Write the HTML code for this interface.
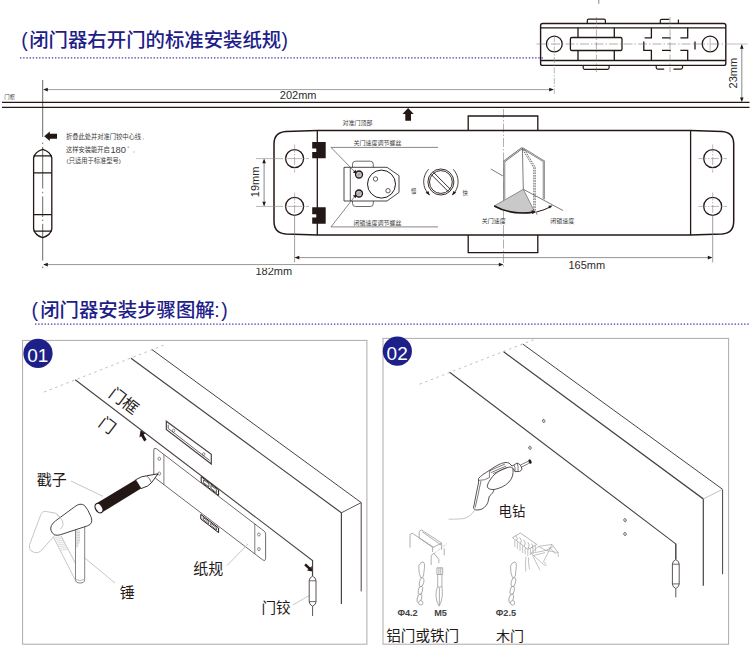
<!DOCTYPE html>
<html><head><meta charset="utf-8"><title>door closer</title>
<style>html,body{margin:0;padding:0;background:#fff}body{width:750px;height:649px;overflow:hidden;font-family:"Liberation Sans",sans-serif}svg{display:block}svg text{font-family:"Liberation Sans","Noto Sans CJK SC",sans-serif}</style>
</head><body><svg width="750" height="649" viewBox="0 0 750 649"><text x="21.3" y="46.6" font-size="19.4" font-weight="500" fill="#1d2088">(</text>
<text x="29.2" y="46.6" font-size="19.4" font-weight="500" fill="#1d2088">闭门器右开门的标准安装纸规</text>
<text x="281.6" y="46.6" font-size="19.4" font-weight="500" fill="#1d2088">)</text>
<line x1="20" y1="57.8" x2="544" y2="57.8" stroke="#433aa6" stroke-width="1.15" stroke-dasharray="1.4 1.78"/>
<line x1="598.8" y1="0" x2="598.8" y2="3.8" stroke="#666" stroke-width="0.8"/>
<rect x="540.6" y="23.5" width="185.2" height="41.9" rx="2" fill="none" stroke="#231815" stroke-width="1.4"/><line x1="540.6" y1="27.8" x2="725.8" y2="27.8" stroke="#231815" stroke-width="1.3"/><line x1="540.6" y1="60.5" x2="725.8" y2="60.5" stroke="#231815" stroke-width="1.3"/><circle cx="554.3" cy="44" r="7.9" fill="none" stroke="#231815" stroke-width="1.3"/><circle cx="710.1" cy="44" r="7.9" fill="none" stroke="#231815" stroke-width="1.3"/><path d="M578 27.8V60.5M614.3 27.8V60.5" stroke="#231815" stroke-width="1.3" fill="none"/><rect x="570.4" y="37.5" width="51.6" height="13" rx="1.6" fill="#fff" stroke="#231815" stroke-width="1.3"/><path d="M587.3 23.5V20.6Q587.3 19.2 588.7 19.2H604Q605.4 19.2 605.4 20.6V23.5" stroke="#231815" stroke-width="1.2" fill="none"/><path d="M583.2 65.4V67.8Q583.2 69.3 584.7 69.3H607.6Q609.1 69.3 609.1 67.8V65.4" stroke="#231815" stroke-width="1.2" fill="none"/><path d="M651.4 27.8V37.9H644.6M643.8 41.5V50.3H651.4V60.5M687.7 27.8V37.9H680.4M680.4 50.3H687.7V60.5M662 37.9H670.8M662 50.3H670.8M695 41.5V49.6" stroke="#231815" stroke-width="1.3" fill="none"/><path d="M660.3 23.5V20.8Q660.3 19.4 661.7 19.4H669.3M678.4 19.6V23.5" stroke="#231815" stroke-width="1.2" fill="none"/><path d="M656.2 65.4V67.6Q656.2 69.1 657.7 69.1H664.2M673.4 69.1H681Q682.5 69.1 682.5 67.6V65.4" stroke="#231815" stroke-width="1.2" fill="none"/><line x1="536.5" y1="44" x2="726" y2="44" stroke="#707070" stroke-width="0.55" stroke-dasharray="9 2 1.5 2"/><line x1="726" y1="44" x2="747.5" y2="44" stroke="#888" stroke-width="0.55"/><line x1="596.4" y1="17" x2="596.4" y2="72" stroke="#707070" stroke-width="0.55" stroke-dasharray="7 2 1.5 2"/><line x1="670" y1="17" x2="670" y2="72" stroke="#707070" stroke-width="0.55" stroke-dasharray="7 2 1.5 2"/><line x1="554.3" y1="36" x2="554.3" y2="94" stroke="#888" stroke-width="0.6" stroke-dasharray="6 1.5 1.5 1.5"/><line x1="710.1" y1="38" x2="710.1" y2="52" stroke="#888" stroke-width="0.6"/>
<line x1="741.8" y1="45" x2="741.8" y2="101" stroke="#555" stroke-width="0.7"/>
<path d="M741.8 44.3L743.6 48.8H740ZM741.8 101.9L743.6 97.4H740Z" fill="#231815"/>
<text transform="translate(737.2 88.4) rotate(-90)" font-size="11" fill="#2b2b2b">23mm</text>
<line x1="42.7" y1="80" x2="42.7" y2="137" stroke="#444" stroke-width="0.8"/>
<line x1="44" y1="89.6" x2="553" y2="89.6" stroke="#777" stroke-width="0.7"/>
<path d="M43.2 89.6L47.8 87.8V91.4ZM553.8 89.6L549.2 87.8V91.4Z" fill="#231815"/>
<text x="279.8" y="99.2" font-size="11" fill="#2b2b2b">202mm</text>
<line x1="2" y1="102.4" x2="749.5" y2="102.4" stroke="#231815" stroke-width="1.2"/>
<line x1="2" y1="107.4" x2="749.5" y2="107.4" stroke="#231815" stroke-width="1.2"/>
<text x="4.3" y="99.2" font-size="5.4" fill="#444">门框</text>
<path d="M408.1 108L413.7 114.1H411V120.7H405.3V114.1H402.5Z" fill="#231815"/>
<text x="342.5" y="124.7" font-size="6" fill="#444">对准门顶部</text>
<path d="M42.7 142.6v1.4M42.7 147V188.5M42.7 191.8v1.4M42.7 196.4V217M42.7 219.6v1.4M42.7 223.9V260.5M42.7 266.6v1.6" stroke="#444" stroke-width="0.8" fill="none"/>
<path d="M44.2 136.2L49.8 131.5V133.7H57V138.8H49.8V141Z" fill="#231815"/>
<path d="M33.6 158 Q35 151.5 42.7 149.4 Q50.4 151.5 51.8 158 V229 Q50.4 235.5 42.7 237.6 Q35 235.5 33.6 229Z" fill="none" stroke="#231815" stroke-width="1.3"/>
<path d="M33.6 155.9H51.8M33.6 172.8H51.8M33.6 214.7H51.8M33.6 231.1H51.8" stroke="#231815" stroke-width="1.2" fill="none"/>
<text x="66" y="138.8" font-size="6.25" fill="#3a3a3a">折叠此处并对准门铰中心线</text>
<text x="142.4" y="138.8" font-size="6.25" fill="#3a3a3a">,</text>
<text x="66" y="152.3" font-size="6.25" fill="#3a3a3a">这样安装能开启</text>
<text x="110.4" y="152.6" font-size="9.4" fill="#444">180</text>
<circle cx="128.3" cy="147.3" r="0.6" fill="none" stroke="#666" stroke-width="0.4"/>
<text x="133.1" y="152.3" font-size="6.25" fill="#3a3a3a">,</text>
<text x="66.6" y="162.8" font-size="6.25" fill="#3a3a3a">(只适用于标准型号)</text>
<line x1="44" y1="264.6" x2="502.5" y2="264.6" stroke="#777" stroke-width="0.8"/>
<path d="M43.2 264.6L47.8 262.8V266.4ZM503.4 264.6L498.8 262.8V266.4Z" fill="#231815"/>
<text x="255.4" y="274.8" font-size="11" fill="#2b2b2b">182mm</text>
<rect x="250" y="265.6" width="48" height="2.3" fill="#fff"/>
<line x1="295.4" y1="257.6" x2="711.6" y2="257.6" stroke="#777" stroke-width="0.8"/>
<path d="M294.7 257.6L299.3 255.8V259.4ZM712.4 257.6L707.8 255.8V259.4Z" fill="#231815"/>
<text x="568.4" y="269.2" font-size="11" fill="#2b2b2b">165mm</text>
<line x1="503.5" y1="109" x2="503.5" y2="268.5" stroke="#707070" stroke-width="0.55" stroke-dasharray="9 2 1.5 2"/>
<path d="M468.2 130.5V116H537.8V130.5" fill="none" stroke="#231815" stroke-width="1.3"/>
<path d="M468.2 235V252.6H537.8V235" fill="none" stroke="#231815" stroke-width="1.3"/>
<path d="M317.3 130.6H690.6 L722 131.6 Q733.7 132.4 733.7 144 V221.5 Q733.7 233.2 722 234 L690.6 235H317.3 L286 234 Q274 233.2 274 221.5 V144 Q274 132.4 286 131.6Z" fill="none" stroke="#231815" stroke-width="1.5" stroke-linejoin="round"/>
<path d="M317.3 130.6V235M690.6 130.6V235" stroke="#231815" stroke-width="1.3" fill="none"/>
<circle cx="294.6" cy="158.6" r="9" fill="none" stroke="#231815" stroke-width="1.3"/>
<circle cx="294.6" cy="206.4" r="9" fill="none" stroke="#231815" stroke-width="1.3"/>
<circle cx="712.7" cy="158.6" r="9" fill="none" stroke="#231815" stroke-width="1.3"/>
<circle cx="712.7" cy="206.4" r="9" fill="none" stroke="#231815" stroke-width="1.3"/>
<path d="M294.6 144.5V172.5M294.6 192.5V215" stroke="#888" stroke-width="0.6" fill="none" stroke-dasharray="8 1.5 1.5 1.5"/>
<path d="M256 158.6H283M284.4 158.6h1.4M287.4 158.6H302M303.4 158.6h1.4M306 158.6H309" stroke="#888" stroke-width="0.6" fill="none"/>
<path d="M256 206.4H283M284.4 206.4h1.4M287.4 206.4H302M303.4 206.4h1.4M306 206.4H309" stroke="#888" stroke-width="0.6" fill="none"/>
<path d="M294.6 215V262.4M712.7 215V262.4" stroke="#777" stroke-width="0.7" fill="none"/>
<path d="M698.4 158.6H727M698.4 206.4H727M712.7 144.5V172.5M712.7 192.5V215" stroke="#888" stroke-width="0.6" fill="none" stroke-dasharray="8 1.5 1.5 1.5"/>
<line x1="264.1" y1="159.5" x2="264.1" y2="205.5" stroke="#555" stroke-width="0.7"/>
<path d="M264.1 158.8L265.9 163.3H262.3ZM264.1 206.2L265.9 201.7H262.3Z" fill="#231815"/>
<text transform="translate(259 197.2) rotate(-90)" font-size="11" fill="#2b2b2b">19mm</text>
<path d="M312.2 141.9H325.7V158.3H312.2V151.9H316.4V148.6H312.2Z" fill="#231815"/>
<path d="M312.2 207.3H325.7V223.8H312.2V217.6H316.4V214.3H312.2Z" fill="#231815"/>
<text x="353.6" y="145.1" font-size="6" fill="#3a3a3a">关门速度调节螺丝</text>
<text x="353.6" y="225.1" font-size="6" fill="#3a3a3a">闭锁速度调节螺丝</text>
<rect x="352.5" y="161.2" width="20.8" height="45.3" rx="3" fill="none" stroke="#444" stroke-width="0.8"/>
<path d="M344 167.3H387L399 175.6V192.4L387 201H344Z" fill="#fff" stroke="#333" stroke-width="0.9"/>
<path d="M350.3 167.3V201" stroke="#333" stroke-width="0.8"/>
<circle cx="381.5" cy="184.1" r="14" fill="#fff" stroke="#231815" stroke-width="1"/>
<circle cx="375.5" cy="179" r="2.2" fill="none" stroke="#231815" stroke-width="0.7"/>
<circle cx="388" cy="190.7" r="2.2" fill="none" stroke="#231815" stroke-width="0.7"/>
<path d="M438 147.4H331L354.6 171.6M438 226.9H331L354.6 196.6" fill="none" stroke="#555" stroke-width="0.7"/>
<circle cx="359" cy="174.5" r="3.5" fill="#c4c4c4" stroke="#231815" stroke-width="1.3"/>
<path d="M356.9 175.8L360.3 172.4M357.7 176.6L361.1 173.2" stroke="#777" stroke-width="0.5"/>
<circle cx="359" cy="193.5" r="3.5" fill="#c4c4c4" stroke="#231815" stroke-width="1.3"/>
<path d="M356.9 194.8L360.3 191.4M357.7 195.6L361.1 192.2" stroke="#777" stroke-width="0.5"/>
<path d="M356.6 173.4L352.8 172.6L355.6 169.8ZM356.6 194.7L352.8 195.4L355.6 198.3Z" fill="#231815"/>
<circle cx="440.9" cy="182" r="13" fill="none" stroke="#231815" stroke-width="0.9"/>
<circle cx="440.9" cy="182" r="11.4" fill="none" stroke="#231815" stroke-width="0.9"/>
<path d="M431.3 174.6L448.3 191.6M433.5 172.4L450.5 189.4" stroke="#231815" stroke-width="0.9"/>
<path d="M428.6 169.2A18.3 18.3 0 0 0 429.2 194.8M453.2 169.2A18.3 18.3 0 0 1 452.6 194.8" fill="none" stroke="#231815" stroke-width="0.8"/>
<path d="M429.9 195.6L425.6 192.8L428.3 191ZM451.9 195.6L456.2 192.8L453.5 191Z" fill="#231815"/>
<text x="410.9" y="192.9" font-size="5.4" fill="#3a3a3a">慢</text>
<text x="462.5" y="194.5" font-size="5.4" fill="#3a3a3a">快</text>
<path d="M490.8 169L503 176M523.3 189.3L563 210.5" stroke="#444" stroke-width="0.7" fill="none"/>
<path d="M523.3 189.3L494.2 206A41.8 23.6 0 0 0 534.8 212Z" fill="#c9c9c9" stroke="#555" stroke-width="0.6"/>
<path d="M494.2 206A41.8 23.6 0 0 0 534 212.1" fill="none" stroke="#231815" stroke-width="1.6"/>
<path d="M536.3 212.1L531.6 210.1L532.2 214Z" fill="#231815"/>
<path d="M536.3 212A41.8 23.6 0 0 0 550.8 206.6" fill="none" stroke="#231815" stroke-width="1"/>
<path d="M552.6 205.6L548.2 205.8L549.8 208.6Z" fill="#231815"/>
<path d="M536.2 212.4L537 214.6" stroke="#231815" stroke-width="0.6"/>
<path d="M504.2 199.4V161.4L522.2 148" fill="none" stroke="#666" stroke-width="2"/>
<path d="M504.2 199.4V161.4L522.2 148" fill="none" stroke="#fff" stroke-width="0.6"/>
<path d="M522.2 148L543.8 161.2V199.3" fill="none" stroke="#666" stroke-width="2"/>
<path d="M522.2 148L543.8 161.2V199.3" fill="none" stroke="#fff" stroke-width="0.6"/>
<path d="M522.4 148L523.3 189.3" stroke="#444" stroke-width="0.7"/>
<path d="M522.6 149.5L533.8 167.8V211.5M524.4 149.5L535.2 167.2V211.5" fill="none" stroke="#333" stroke-width="0.7" stroke-dasharray="1.7 0.9"/>
<text x="481.7" y="223.3" font-size="6" fill="#3a3a3a">关门速度</text>
<text x="550.2" y="223.3" font-size="6" fill="#3a3a3a">闭锁速度</text>
<text x="31.5" y="317.1" font-size="19.4" font-weight="500" fill="#1d2088">(</text>
<text x="40.2" y="317.1" font-size="19.4" font-weight="500" fill="#1d2088">闭门器安装步骤图解</text>
<text x="214.3" y="317.1" font-size="19.4" font-weight="500" fill="#1d2088">:</text>
<text x="221.2" y="317.1" font-size="19.4" font-weight="500" fill="#1d2088">)</text>
<line x1="35" y1="324.1" x2="750" y2="324.1" stroke="#433aa6" stroke-width="1.15" stroke-dasharray="1.4 1.78"/>
<rect x="22.6" y="340.4" width="344.3" height="303.8" fill="#fff" stroke="#b0a9a9" stroke-width="1"/>
<rect x="383" y="338.4" width="345.6" height="305.8" fill="#fff" stroke="#b0a9a9" stroke-width="1"/>
<line x1="44" y1="392.1" x2="165.2" y2="344.6" stroke="#b9b9b9" stroke-width="0.9" stroke-dasharray="2.5 3.5"/>
<path d="M75.2 379.7L312.5 560.5V576" fill="none" stroke="#4a4242" stroke-width="1.1"/>
<path d="M131 358.3L341.4 512.8V604" fill="none" stroke="#4a4242" stroke-width="1.2"/>
<path d="M151.8 349.5L361.2 502.6V591.4" fill="none" stroke="#4a4242" stroke-width="1"/>
<path d="M341.4 512.8L361.2 502.6" fill="none" stroke="#4a4242" stroke-width="0.9"/>
<text transform="translate(107.8 395.8) rotate(37.5)" font-size="16" fill="#1f1a17">门框</text>
<text transform="translate(97.5 425.1) rotate(37.5)" font-size="16" fill="#1f1a17">门</text>
<path d="M140.6 430.2L145.3 433.4L143.6 434.6L146.6 439.8L144.2 441.4L141.2 436.2L139.4 437.4Z" fill="#231815"/>
<path d="M166.3 421.2V429.4L211.3 464V454.3Z" fill="#fff" stroke="#4a4242" stroke-width="1.2"/>
<path d="M168.2 424.6V428.4L209.6 460.4" fill="none" stroke="#4a4242" stroke-width="0.8"/>
<ellipse cx="173.6" cy="430.6" rx="1.2" ry="1.5" fill="none" stroke="#4a4242" stroke-width="0.6"/>
<ellipse cx="203.7" cy="454.2" rx="1.2" ry="1.5" fill="none" stroke="#4a4242" stroke-width="0.6"/>
<path d="M156.2 448.6Q153.8 447.4 153.8 450V475Q153.8 477 155.6 478.3L262.6 559.8Q265.6 561.6 265.6 558.4V534.2Q265.6 532.2 264 531Z" fill="#fff" stroke="#4a4242" stroke-width="0.8"/>
<path d="M163.9 454.6V484.6M254.8 523.8V553.8" stroke="#4a4242" stroke-width="0.7" fill="none"/>
<ellipse cx="159.3" cy="458.8" rx="1.3" ry="1.6" fill="none" stroke="#4a4242" stroke-width="0.6"/>
<ellipse cx="159.3" cy="473.6" rx="1.3" ry="1.6" fill="none" stroke="#4a4242" stroke-width="0.6"/>
<ellipse cx="258.9" cy="534.5" rx="1.3" ry="1.6" fill="none" stroke="#4a4242" stroke-width="0.6"/>
<ellipse cx="258.9" cy="549.1" rx="1.3" ry="1.6" fill="none" stroke="#4a4242" stroke-width="0.6"/>
<path d="M201.2 476.7L218.6 489.9V495.4L201.2 482.2Z" fill="#fff" stroke="#231815" stroke-width="1"/>
<path d="M203.6 479.8L208.9 483.8V486.8L203.6 482.8Z" fill="none" stroke="#231815" stroke-width="0.7"/>
<path d="M210.9 485.4L216.6 489.7V492.7L210.9 488.4Z" fill="none" stroke="#231815" stroke-width="0.7"/>
<path d="M200.8 514.4L218.6 528V532.6L200.8 519.0Z" fill="#fff" stroke="#231815" stroke-width="1"/>
<path d="M203.2 517.5L208.7 521.7V523.8L203.2 519.6Z" fill="none" stroke="#231815" stroke-width="0.7"/>
<path d="M210.7 523.3L216.6 527.8V529.9L210.7 525.4Z" fill="none" stroke="#231815" stroke-width="0.7"/>
<path d="M71 481L103 496.4M83.6 557L115 583M227 565.6L248 544M292.8 605L309 595.6" fill="none" stroke="#b9b9b9" stroke-width="0.8"/>
<path d="M96.2 503.6L135.6 479.8L141 488.6L101.8 512.6Z" fill="#231815"/>
<ellipse cx="99" cy="508.1" rx="3.4" ry="5.2" transform="rotate(-31 99 508.1)" fill="#fff" stroke="#231815" stroke-width="1.2"/>
<path d="M135.6 479.8Q141.6 476 146.6 475.8L158 473.8L151.6 482.6Q149 486.4 141 488.6Z" fill="#fff" stroke="#231815" stroke-width="0.9" stroke-linejoin="round"/>
<path d="M146.8 476Q150 478.4 151.4 482.6" fill="none" stroke="#231815" stroke-width="0.6"/>
<path d="M40.6 515.2Q41.8 511.2 45.6 511.4L55.6 513.2Q60 516.6 62.6 521Q64.6 525.6 59.6 530L40.8 551Q38 553.6 34.4 552.4L31.2 551Q28.4 548.8 29.6 544.6Z" fill="none" stroke="#b9b9b9" stroke-width="0.8"/>
<path d="M53.5 537.4L75.6 580.6M61.3 536.2L82.2 576.4" fill="none" stroke="#b9b9b9" stroke-width="0.8"/>
<path d="M54.6 537.6L61.6 536.8M55.5 539.4L62.5 538.6M56.4 541.2L63.4 540.4M57.3 543L64.3 542.2M58.2 544.8L65.2 544M59.1 546.6L66.1 545.8M60 548.4L67 547.6M60.9 550.2L67.9 549.4" stroke="#b9b9b9" stroke-width="0.5"/>
<path d="M75.5 528V579.6Q75.5 583 80 583Q84.7 583 84.7 579.6V526" fill="#fff" stroke="#777" stroke-width="0.9"/>
<path d="M75.8 579.4Q80 581.6 84.4 579.4" fill="none" stroke="#888" stroke-width="0.6"/>
<path d="M76 531H80M76 532.6H80M76 534.2H80M76 535.8H80M76 537.4H80M76 539H80M76 540.6H80M76 542.2H79.6M76 543.8H79M76 545.4H78.4M76 547H77.6" stroke="#999" stroke-width="0.5"/>
<path d="M74.6 506.8Q80.4 502.4 84.4 505.4Q87.6 508.4 91.2 517.2Q93.4 523.8 87.6 525.8L60.2 534.8Q53.2 536.8 51 530.4Q49.6 525.4 55.4 521Z" fill="#fff" stroke="#4a4242" stroke-width="1"/>
<path d="M56.6 514Q60.4 517 62.6 521Q64.4 525.6 60.4 529.4" fill="none" stroke="#b9b9b9" stroke-width="0.8"/>
<text x="36.8" y="484.8" font-size="15" fill="#1f1a17">戳子</text>
<text x="119.8" y="597.7" font-size="15" fill="#1f1a17">锤</text>
<text x="193.3" y="573.6" font-size="15" fill="#1f1a17">纸规</text>
<text x="261.5" y="613" font-size="14.6" fill="#1f1a17">门铰</text>
<path d="M312.6 560.5V576.2M312.6 606.2V616" stroke="#4a4242" stroke-width="0.9" fill="none"/>
<path d="M309.20000000000005 580.7Q309.20000000000005 577.7 312.6 576.2Q316.0 577.7 316.0 580.7V601.7Q316.0 604.7 312.6 606.2Q309.20000000000005 604.7 309.20000000000005 601.7Z" fill="#fff" stroke="#4a4242" stroke-width="0.9"/>
<path d="M309.20000000000005 580.8000000000001H316.0M309.20000000000005 601.6H316.0" stroke="#4a4242" stroke-width="0.8"/>
<path d="M312.2 571.6L307 570.6L308.4 569.2L304.2 565.2L306 563.4L310.2 567.4L311.6 566Z" fill="#231815"/>
<line x1="419.6" y1="384.2" x2="536" y2="338.8" stroke="#b9b9b9" stroke-width="0.9" stroke-dasharray="2.5 3.5"/>
<path d="M449.6 372.2L675.8 543.9V559.6" fill="none" stroke="#4a4242" stroke-width="1.1"/>
<path d="M503.6 351.8L703.3 498.9V585.8" fill="none" stroke="#4a4242" stroke-width="1.2"/>
<path d="M522.8 344.1L722.6 489.3V574.2" fill="none" stroke="#4a4242" stroke-width="1"/>
<path d="M703.3 498.9L722.6 489.3" fill="none" stroke="#b9b9b9" stroke-width="0.9"/>
<ellipse cx="543.7" cy="420.9" rx="1.2" ry="1.6" transform="rotate(-20 543.7 420.9)" fill="#ddd" stroke="#4a4242" stroke-width="0.7"/>
<ellipse cx="530" cy="447.8" rx="1.2" ry="1.6" transform="rotate(-20 530 447.8)" fill="#ddd" stroke="#4a4242" stroke-width="0.7"/>
<ellipse cx="625" cy="520.2" rx="1.2" ry="1.6" transform="rotate(-20 625 520.2)" fill="#ddd" stroke="#4a4242" stroke-width="0.7"/>
<ellipse cx="625" cy="534" rx="1.2" ry="1.6" transform="rotate(-20 625 534)" fill="#ddd" stroke="#4a4242" stroke-width="0.7"/>
<path d="M675.8 543.9V559.6M675.8 588.5V597.4" stroke="#4a4242" stroke-width="0.9" fill="none"/>
<path d="M672.4 564.1Q672.4 561.1 675.8 559.6Q679.1999999999999 561.1 679.1999999999999 564.1V584.0Q679.1999999999999 587.0 675.8 588.5Q672.4 587.0 672.4 584.0Z" fill="#fff" stroke="#4a4242" stroke-width="0.9"/>
<path d="M672.4 564.2H679.1999999999999M672.4 583.9H679.1999999999999" stroke="#4a4242" stroke-width="0.8"/>
<path d="M473.5 508L476 495L478.5 483V478.5Q480.5 476.4 483 474.5L490 470Q494 467 498 465Q501.6 463 505 462.5Q507.4 462.4 509 463L512 466L514 465L517 463Q519.4 463.6 521 466L522 469Q521.4 470.8 519.5 471.5L515 471.6L513 468.4Q513.4 472.6 512.5 476Q511.4 479.4 509 482Q506 485 502 487Q498 488.8 494 489.5Q493.6 491.6 492.5 493Q491 494.8 489.5 496Q488.6 498 488.5 500Q488 503 486.5 505Q484.8 507.6 482 509Q479 510.2 476 510Q474 509.6 473.5 508Z" fill="#fff" stroke="#4a4242" stroke-width="0.9" stroke-linejoin="round"/>
<path d="M494 489.5Q490.4 489.8 488.5 488.5Q486.6 487 487.5 485Q488.4 482.4 490 480Q492.2 476.8 495 474Q498.6 471 503 469Q506.6 467.4 510 467Q512 467.2 513 468.4" fill="none" stroke="#4a4242" stroke-width="0.9"/>
<path d="M478.8 480.4Q484.6 480.6 489.5 477.5M481 481Q479.4 488 478 495L475.2 507.6M489 471L505 464M491 472.6L506.2 466M493 473.6L507.4 467.6M489.5 477.5Q489 474 490 470M514 465Q515.6 467.6 515 471.6M517 463Q518.6 466 518 471.4" fill="none" stroke="#4a4242" stroke-width="0.7"/>
<path d="M520.4 465L528 461.4M521.4 467.2L528.8 463.4" stroke="#4a4242" stroke-width="0.7"/>
<ellipse cx="530" cy="461.6" rx="1.5" ry="2.3" transform="rotate(-25 530 461.6)" fill="#231815"/>
<path d="M475 509.6Q470 518 462 518.8Q454 519.4 448.6 519.2" fill="none" stroke="#b9b9b9" stroke-width="0.8"/>
<text x="498.6" y="515.8" font-size="13.4" fill="#1f1a17">电钻</text>
<path d="M410 547.6V535.4Q410.2 533.4 412.2 533.2L433.2 547M419.2 538.2V532.2Q419.6 530.2 421.6 530L441.6 543M422.2 531.8L441 545M419.4 538.2L432.6 547.4M432.6 547.2V552M441.6 543V549.8M444.2 548.4V555.4M433 547.4L441.6 543.2M431.2 555.4V565M431.2 555.4L434 553.2L438.8 559.4V563.2" fill="none" stroke="#9a9a9a" stroke-width="0.8"/>
<path d="M433.3 554L447.8 543" stroke="#9a9a9a" stroke-width="0.5" stroke-dasharray="3 1 1 1"/>
<path d="M418.8 565.8Q420.6 562.0 423.20000000000005 561.8Q424.8 562.8 424.6 566.8L423.40000000000003 576.4Q422.0 578.0 420.6 577.4Q418.40000000000003 572.8 418.8 565.8Z" fill="none" stroke="#9a9a9a" stroke-width="0.8"/>
<ellipse cx="421.6" cy="582.1999999999999" rx="2.1" ry="4.6" transform="rotate(12 421.6 582.1999999999999)" fill="none" stroke="#9a9a9a" stroke-width="0.8"/>
<ellipse cx="420.40000000000003" cy="590.4" rx="2.1" ry="4.4" transform="rotate(12 420.40000000000003 590.4)" fill="none" stroke="#9a9a9a" stroke-width="0.8"/>
<ellipse cx="419.40000000000003" cy="598.4" rx="2.1" ry="4.6" transform="rotate(12 419.40000000000003 598.4)" fill="none" stroke="#9a9a9a" stroke-width="0.8"/>
<circle cx="420.8" cy="602.8" r="2.2" fill="#fff" stroke="#9a9a9a" stroke-width="0.8"/>
<path d="M510.59999999999997 565.8Q512.4 562.0 515.0 561.8Q516.6 562.8 516.4 566.8L515.1999999999999 576.4Q513.8 578.0 512.4 577.4Q510.2 572.8 510.59999999999997 565.8Z" fill="none" stroke="#9a9a9a" stroke-width="0.8"/>
<ellipse cx="513.4" cy="582.1999999999999" rx="2.1" ry="4.6" transform="rotate(12 513.4 582.1999999999999)" fill="none" stroke="#9a9a9a" stroke-width="0.8"/>
<ellipse cx="512.1999999999999" cy="590.4" rx="2.1" ry="4.4" transform="rotate(12 512.1999999999999 590.4)" fill="none" stroke="#9a9a9a" stroke-width="0.8"/>
<ellipse cx="511.2" cy="598.4" rx="2.1" ry="4.6" transform="rotate(12 511.2 598.4)" fill="none" stroke="#9a9a9a" stroke-width="0.8"/>
<circle cx="512.6" cy="602.8" r="2.2" fill="#fff" stroke="#9a9a9a" stroke-width="0.8"/>
<path d="M436.9 567.8H442.7V574.5H436.9ZM438.9 567.8V574.5M440.8 567.8V574.5M437.7 574.5V586.4M441.9 574.5V586.4M437.7 586.4Q435.6 590.5 436 596.5Q436.8 602.8 439 606.2Q441.4 602.8 442.2 596.5Q442.6 590.5 441.9 586.4M439.4 587.4V605M437.7 586.4Q439.6 588.2 441.9 586.4" fill="none" stroke="#9a9a9a" stroke-width="0.8"/>
<path d="M512.4 537.6L520.4 533L536.8 544.4L528 549.4M512.4 537.6L528 549.4M515.6 535.8Q518.4 538 516.6 540.8M519.6 537.4Q522.6 539.8 520.6 543.6M523.6 539.8Q526.6 542.4 524.4 546.4M527.8 542.2Q530.6 544.8 528 549M531.6 543.6Q533.8 546 532 548.4" fill="none" stroke="#9a9a9a" stroke-width="0.7"/>
<path d="M514.8 540.4V547M517.4 542.2V549M520 544.2V551M522.6 546V553M525.2 548V554.6M527.8 549.6V556M530.4 548.6V555M533 547V553.4M535.4 545.4V551.6" fill="none" stroke="#9a9a9a" stroke-width="0.6"/>
<path d="M531 553.4L538.4 546.4L552 544.4L558.2 552.6V557M531 553.4L546 550.4L558.2 552.6M532.4 555.8L545 552.6M538.4 546.4L546 550.4M552 544.4L543.6 561.6M546 550.4L553.6 546.6M531 553.4L545.4 566M533 556.6L540.2 570.4M526 556.6Q525 564 525.8 571.6M528.6 557.6Q528 563 529.6 569.4M543.6 561.6L546.6 565.4M549 547.2L556 554.4" fill="none" stroke="#9a9a9a" stroke-width="0.6"/>
<text x="397.4" y="615.6" font-size="9.2" font-weight="bold" fill="#444">Φ4.2</text>
<text x="434.2" y="615.6" font-size="9.2" font-weight="bold" fill="#444">M5</text>
<text x="495.8" y="615.6" font-size="9.2" font-weight="bold" fill="#444">Φ2.5</text>
<text x="386.2" y="641.1" font-size="14.6" fill="#1f1a17">铝门或铁门</text>
<text x="495.9" y="641.1" font-size="14" fill="#1f1a17">木门</text>
<circle cx="38" cy="353.4" r="14.6" fill="#1d2088"/>
<text x="27.2" y="362.2" font-size="19" fill="#fff">01</text>
<circle cx="397.35" cy="351.1" r="14.6" fill="#1d2088"/>
<text x="386.6" y="359.7" font-size="19" fill="#fff">02</text></svg></body></html>
